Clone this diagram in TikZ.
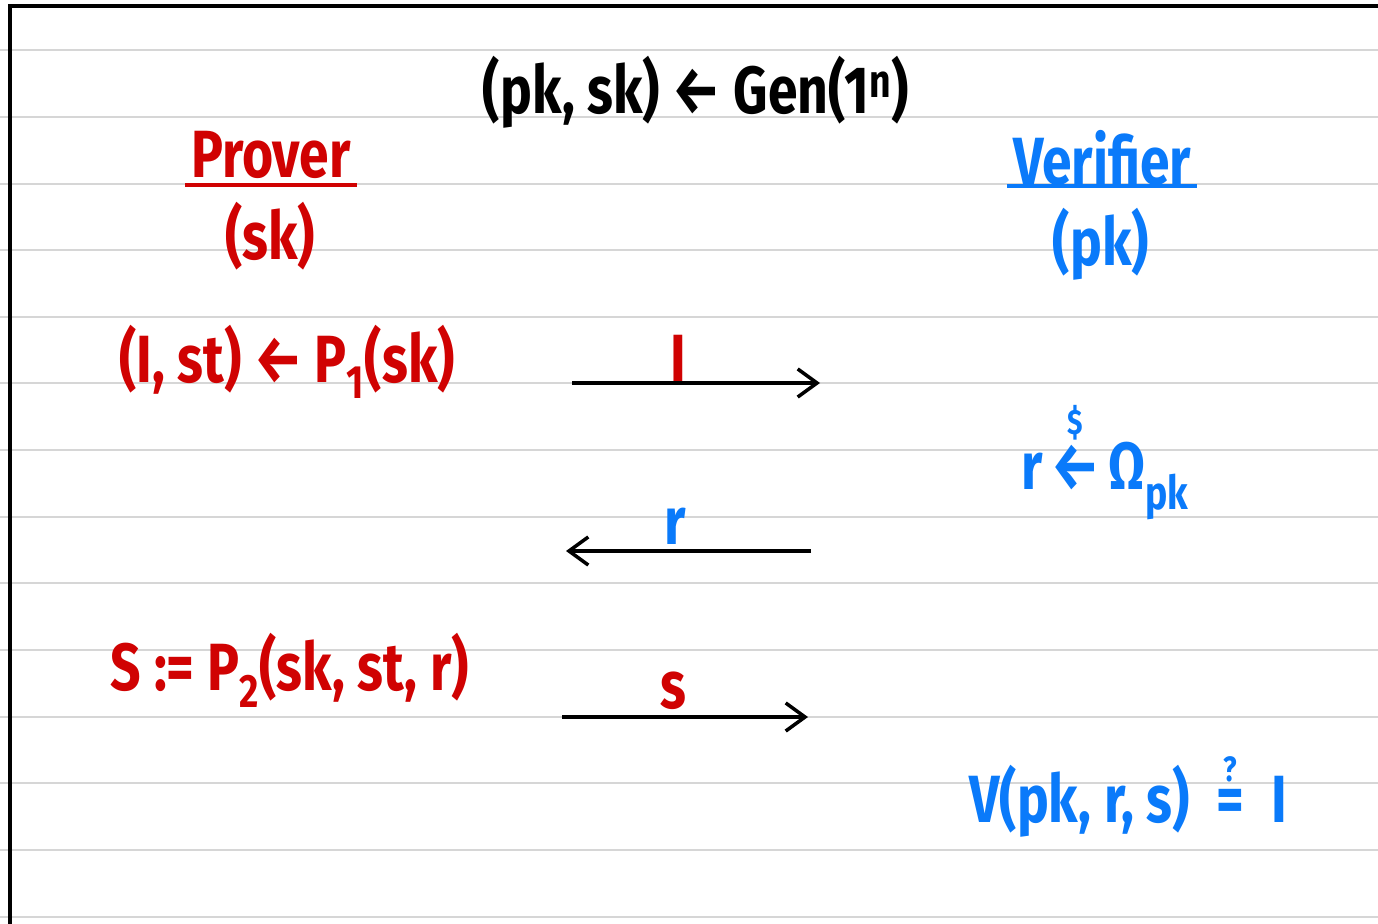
\documentclass[tikz,border=0pt]{standalone}
\usepackage{amsmath}
\usepackage{fontspec}
\setmainfont{Fira Sans}
\usepackage{xcolor}
\definecolor{provred}{RGB}{208,2,2}
\definecolor{verblue}{RGB}{10,122,250}
\definecolor{ruled}{RGB}{214,214,214}
\usepackage{tikz}
\usetikzlibrary{arrows.meta,positioning,calc}

\newcommand{\sampl}{$\overset{\text{\fontsize{20}{20}\selectfont\$}\vphantom{\raisebox{4pt}{x}}}{\text{←}}$}
\newcommand{\queq}{$\overset{\text{\fontsize{20}{20}\selectfont ?}\vphantom{\raisebox{4pt}{x}}}{\text{=}}$}

\tikzset{
  hand/.style={font=\fontsize{38}{44}\selectfont\bfseries, inner sep=0pt, xscale=0.8, transform shape},
  prov/.style={hand, text=provred},
  verf/.style={hand, text=verblue},
  msg/.style={line width=2pt, -{Straight Barb[length=11pt, width=16pt, line width=2pt]}}
}

\begin{document}
\begin{tikzpicture}[x=0.02cm, y=-0.02cm]
    \useasboundingbox (0,0) rectangle (1378,923);
    \fill[white] (0,0) rectangle (1378,923);

    % Ruled paper
    \foreach \yy in {50,117,184,250,317,383,450,517,583,650,717,783,850,917}
        \draw[ruled, line width=0.9pt] (0,\yy) -- (1378,\yy);

    % Page border
    \draw[line width=2.4pt, line cap=rect] (10,923) -- (10,6) -- (1378,6);

    % Key generation
    \node[hand] (keygen) at (696,92) {(pk, sk) ← Gen(1\textsuperscript{n})};

    % Parties
    \node[prov] (prover) at (271,155) {Prover};
    \draw[provred, line width=2pt] ($(prover.south west)+(-6,6)$) -- ($(prover.south east)+(6,6)$);
    \node[prov] (proverkey) at (270,236) {(sk)};

    \node[verf] (verifier) at (1102,158) {Verifier};
    \draw[verblue, line width=2pt] ($(verifier.south west)+(-6,0)$) -- ($(verifier.south east)+(6,0)$);
    \node[verf] (verifierkey) at (1101,244) {(pk)};

    % Commitment
    \node[prov] (commit) at (287,362) {(I, st) ← P\textsubscript{1}(sk)};
    \coordinate (commitL) at (572,383);
    \coordinate (commitR) at (820,383);
    \draw[msg] (commitL) -- (commitR);
    \node[prov] (commitlbl) at (678,358) {I};

    % Challenge
    \node[verf] (challenge) at (1105,454) {r\,\sampl\,Ω\textsubscript{pk}};
    \coordinate (chalR) at (811,551);
    \coordinate (chalL) at (566,551);
    \draw[msg] (chalR) -- (chalL);
    \node[verf] (challbl) at (675,526) {r};

    % Response
    \node[prov] (response) at (290,670) {S := P\textsubscript{2}(sk, st, r)};
    \coordinate (respL) at (562,717);
    \coordinate (respR) at (808,717);
    \draw[msg] (respL) -- (respR);
    \node[prov] (resplbl) at (673,691) {s};

    % Verification
    \node[verf] (verify) at (1128,786) {V(pk, r, s)\enspace\queq\enspace I};
\end{tikzpicture}
\end{document}
